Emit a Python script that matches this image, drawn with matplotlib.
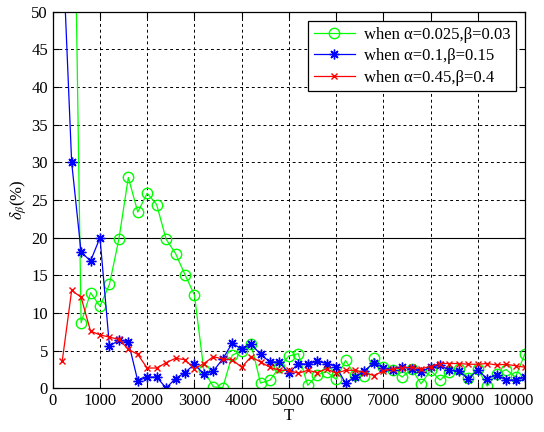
import matplotlib
matplotlib.use('Agg')
import matplotlib.pyplot as plt
from matplotlib.transforms import ScaledTranslation

# data
T = list(range(200, 10001, 200))

green = [100, 92, 8.7, 12.7, 10.9, 13.8, 19.8, 28.0, 23.4, 25.9,
         24.4, 19.8, 17.9, 15.1, 12.4, 2.4, 0.2, 0.1, 4.4, 5.0,
         5.9, 0.7, 1.1, 2.8, 4.3, 4.6, 0.4, 1.8, 2.2, 1.2,
         3.7, 1.8, 1.7, 4.0, 2.8, 2.4, 1.5, 2.6, 0.6, 2.4,
         1.1, 2.2, 2.6, 1.4, 2.6, 0.3, 1.9, 2.5, 1.5, 4.6]

blue = [60, 30, 18.1, 16.9, 20.0, 5.6, 6.4, 6.2, 1.0, 1.5,
        1.5, 0.05, 1.3, 2.1, 3.2, 1.9, 2.3, 3.9, 6.0, 5.2,
        5.9, 4.5, 3.5, 3.5, 2.0, 3.3, 3.2, 3.6, 3.3, 2.9,
        0.7, 1.5, 2.3, 3.4, 2.7, 2.5, 2.9, 2.6, 2.2, 2.8,
        3.1, 2.4, 2.3, 1.3, 2.4, 1.3, 1.8, 1.1, 1.1, 1.5]

red = [3.6, 13.0, 12.1, 7.6, 7.1, 6.8, 6.5, 5.2, 4.5, 2.7,
       2.7, 3.4, 4.0, 3.8, 2.6, 3.3, 4.2, 3.9, 3.8, 2.8,
       4.2, 3.5, 2.8, 2.4, 2.4, 2.0, 2.4, 2.1, 2.6, 2.0,
       2.4, 2.4, 2.1, 1.7, 2.3, 2.6, 2.7, 2.8, 2.6, 2.9,
       3.3, 3.3, 3.3, 3.2, 3.2, 3.3, 3.1, 3.2, 3.0, 2.8]

labels = ['when \u03b1=0.025,\u03b2=0.03',
          'when \u03b1=0.1,\u03b2=0.15',
          'when \u03b1=0.45,\u03b2=0.4']

plt.rcParams['font.family'] = ['Liberation Serif', 'DejaVu Serif']
plt.rcParams['mathtext.fontset'] = 'stix'
plt.rcParams['font.size'] = 12

fig = plt.figure(figsize=(5.44, 4.32), dpi=100)
ax = fig.add_axes([0.097, 0.101, 0.868, 0.872])

ax.plot(T, green, color='#00ff00', marker='o', mfc='none', ms=7.5, lw=0.9, label=labels[0])
ax.plot(T, blue, color='#0000ff', marker=(8, 2, 0), ms=7, mew=1.0, lw=0.9, label=labels[1])
ax.plot(T, red, color='#ff0000', marker='x', ms=4, lw=0.9, label=labels[2])

ax.set_xlim(0, 10000)
ax.set_ylim(0, 50)
ax.set_xticks(range(0, 10001, 1000))
ax.set_yticks(range(0, 51, 5))
ax.grid(True, color='k', linestyle=(0, (3, 3)), linewidth=0.7)
ax.axhline(20, color='k', linewidth=0.8, zorder=0.5)
ax.tick_params(direction='in', top=True, right=True, length=4, labelsize=12)
for s in ax.spines.values():
    s.set_linewidth(0.9)

# the last two tick labels sit a bit to the left, as in the reference
for lab, dx in zip(ax.get_xticklabels()[-2:], [-10, -12]):
    lab.set_transform(lab.get_transform() + ScaledTranslation(dx / 100, 0, fig.dpi_scale_trans))

ax.set_xlabel('T', fontsize=12, labelpad=-1)
ax.set_ylabel(r'$\delta_\beta$(%)', fontsize=12, labelpad=2)

leg = ax.legend(loc='upper right', bbox_to_anchor=(0.981, 0.975), borderaxespad=0,
                fancybox=False, framealpha=1, edgecolor='k', fontsize=12,
                handlelength=2.5, borderpad=0.35, labelspacing=0.32, handletextpad=0.5)
leg.get_frame().set_linewidth(0.9)

fig.savefig('out.png', dpi=100)
